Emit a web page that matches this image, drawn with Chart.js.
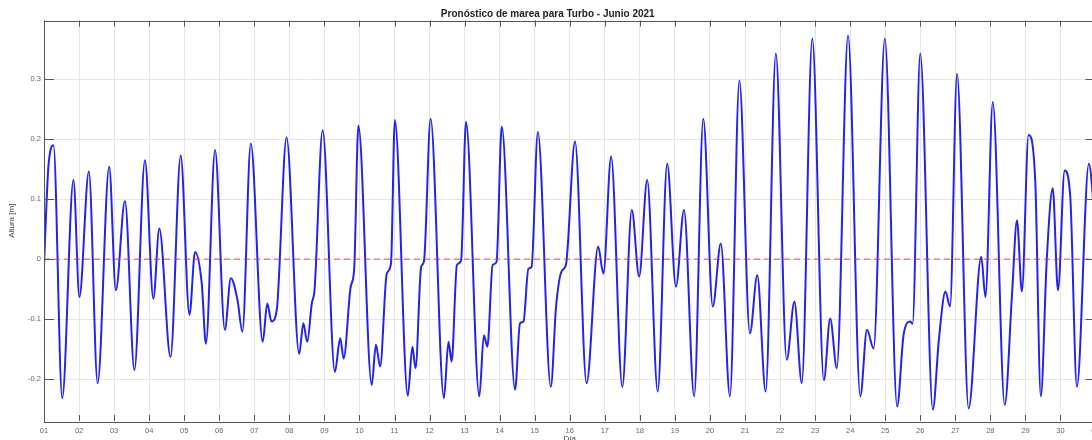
<!DOCTYPE html>
<html>
<head>
<meta charset="utf-8">
<title>Pronóstico de marea - Turbo</title>
<script src="https://cdn.jsdelivr.net/npm/chart.js@4.4.1/dist/chart.umd.min.js"></script>
<style>
  html, body { margin: 0; padding: 0; background: #fff; overflow: hidden; }
  #wrap { width: 1140px; height: 450px; }
</style>
</head>
<body>
<div id="wrap"><canvas id="marea" width="1140" height="450"></canvas></div>
<script>
// instantes (dia de junio con fraccion) y altura de marea [m]
const dias = [
  1.00, 1.12, 1.20, 1.27, 1.52, 1.84, 2.01, 2.28, 2.53, 2.86,
  3.05, 3.31, 3.58, 3.88, 4.12, 4.29, 4.61, 4.90, 5.15, 5.31,
  5.50, 5.62, 5.88, 6.16, 6.33, 6.52, 6.66, 6.90, 7.24, 7.37,
  7.49, 7.64, 7.92, 8.28, 8.40, 8.51, 8.64, 8.72, 8.95, 9.30,
  9.45, 9.55, 9.75, 9.85, 9.97, 10.35, 10.47, 10.59, 10.78, 10.90,
  11.01, 11.38, 11.51, 11.60, 11.76, 11.84, 12.03, 12.41, 12.54, 12.63,
  12.78, 12.90, 13.04, 13.42, 13.55, 13.65, 13.80, 13.91, 14.06, 14.44,
  14.58, 14.68, 14.82, 14.91, 15.09, 15.46, 15.61, 15.77, 15.89, 16.15,
  16.48, 16.81, 16.96, 17.18, 17.50, 17.77, 17.98, 18.21, 18.51, 18.78,
  19.03, 19.26, 19.55, 19.81, 20.08, 20.31, 20.57, 20.84, 21.14, 21.35,
  21.59, 21.88, 22.19, 22.41, 22.62, 22.92, 23.25, 23.43, 23.62, 23.94,
  24.29, 24.48, 24.67, 24.99, 25.34, 25.53, 25.72, 25.78, 26.00, 26.36,
  26.53, 26.72, 26.85, 27.05, 27.38, 27.74, 27.86, 28.07, 28.41, 28.62,
  28.76, 28.90, 29.09, 29.28, 29.44, 29.61, 29.78, 29.93, 30.12, 30.28,
  30.47, 30.81, 31.00
];
const alturas = [
  -0.010, 0.150, 0.185, 0.190, -0.232, 0.132, -0.063, 0.146, -0.207, 0.154,
  -0.052, 0.097, -0.185, 0.165, -0.066, 0.051, -0.163, 0.173, -0.093, 0.012,
  -0.040, -0.141, 0.182, -0.118, -0.032, -0.068, -0.121, 0.193, -0.138, -0.074,
  -0.104, -0.085, 0.203, -0.158, -0.107, -0.138, -0.074, -0.050, 0.215, -0.188,
  -0.132, -0.166, -0.046, -0.016, 0.223, -0.210, -0.143, -0.179, -0.024, -0.007,
  0.232, -0.228, -0.146, -0.182, -0.013, -0.004, 0.234, -0.232, -0.138, -0.171,
  -0.010, -0.002, 0.229, -0.229, -0.127, -0.146, -0.010, -0.005, 0.221, -0.218,
  -0.107, -0.104, -0.016, -0.013, 0.212, -0.213, -0.079, -0.020, -0.010, 0.196,
  -0.207, 0.021, -0.024, 0.171, -0.213, 0.082, -0.029, 0.132, -0.221, 0.159,
  -0.046, 0.082, -0.229, 0.234, -0.079, 0.026, -0.229, 0.298, -0.124, -0.027,
  -0.221, 0.343, -0.168, -0.071, -0.207, 0.368, -0.202, -0.099, -0.182, 0.373,
  -0.229, -0.118, -0.149, 0.368, -0.246, -0.124, -0.104, -0.108, 0.343, -0.251,
  -0.135, -0.054, -0.079, 0.309, -0.249, 0.004, -0.063, 0.262, -0.243, -0.057,
  0.065, -0.054, 0.207, 0.132, -0.229, 0.000, 0.118, -0.052, 0.148, 0.104,
  -0.213, 0.159, 0.050
];
// etiquetas del eje de tiempo (del 1 de junio al 1 de julio)
const etiquetasDia = [
  '01', '02', '03', '04', '05', '06', '07', '08', '09', '10',
  '11', '12', '13', '14', '15', '16', '17', '18', '19', '20',
  '21', '22', '23', '24', '25', '26', '27', '28', '29', '30', '01'
];
const nivelCero = [0, 0];
const rangoDias = [1, 31];

const fuente = 'Liberation Sans, Arial, Helvetica, sans-serif';

// marco de ejes con marcas hacia adentro
const marco = {
  id: 'marco',
  afterDatasetsDraw(chart) {
    const {ctx, chartArea: a, scales: {x, y}} = chart;
    ctx.save();
    ctx.strokeStyle = '#555';
    ctx.lineWidth = 1;
    ctx.beginPath();
    x.ticks.forEach(t => {
      const px = Math.round(x.getPixelForValue(t.value)) + 0.5;
      ctx.moveTo(px, a.bottom); ctx.lineTo(px, a.bottom - 6);
      ctx.moveTo(px, a.top); ctx.lineTo(px, a.top + 6);
    });
    y.ticks.forEach(t => {
      const py = Math.round(y.getPixelForValue(t.value)) + 0.5;
      ctx.moveTo(a.left, py); ctx.lineTo(a.left + 10, py);
      ctx.moveTo(a.right, py); ctx.lineTo(a.right - 10, py);
    });
    ctx.stroke();
    ctx.strokeRect(Math.round(a.left) + 0.5, Math.round(a.top) + 0.5,
      Math.round(a.right - a.left), Math.round(a.bottom - a.top));
    ctx.restore();
  }
};

const config = {
  type: 'line',
  data: {
    datasets: [
      {
        label: 'Marea',
        data: dias.map((d, i) => ({x: d, y: alturas[i]})),
        borderColor: 'rgb(35, 35, 235)',
        borderWidth: 2,
        pointRadius: 0,
        cubicInterpolationMode: 'monotone',
        order: 1
      },
      {
        label: 'Cero',
        data: rangoDias.map((d, i) => ({x: d, y: nivelCero[i]})),
        borderColor: 'rgba(225, 50, 50, 0.85)',
        borderWidth: 1,
        borderDash: [6, 4],
        pointRadius: 0,
        order: 0
      }
    ]
  },
  options: {
    responsive: false,
    animation: false,
    devicePixelRatio: 1,
    layout: { padding: { left: 0, right: 44.5, top: 0, bottom: 0 } },
    plugins: {
      legend: { display: false },
      tooltip: { enabled: false },
      title: {
        display: true,
        text: 'Pronóstico de marea para Turbo - Junio 2021',
        color: '#222',
        font: { family: fuente, size: 10, weight: 'bold' },
        padding: { top: 8, bottom: 0.5 }
      }
    },
    scales: {
      x: {
        type: 'linear',
        min: rangoDias[0],
        max: rangoDias[1],
        afterFit: s => { s.height = 29; },
        border: { display: false },
        grid: { color: '#e6e6e6', drawTicks: false },
        ticks: {
          stepSize: 1,
          autoSkip: false,
          maxRotation: 0,
          padding: 5,
          color: '#666',
          font: { family: fuente, size: 7.5 },
          callback: v => etiquetasDia[v - 1]
        },
        title: {
          display: true,
          text: 'Día',
          color: '#444',
          font: { family: fuente, size: 8 },
          padding: { top: 0, bottom: 6 }
        }
      },
      y: {
        min: -0.27,
        max: 0.398,
        afterFit: s => { s.width = 44; },
        border: { display: false },
        grid: { color: '#e6e6e6', drawTicks: false },
        ticks: {
          stepSize: 0.1,
          includeBounds: false,
          padding: 3,
          color: '#666',
          font: { family: fuente, size: 7.5 },
          callback: v => String(Math.round(v * 10) / 10)
        },
        title: {
          display: true,
          text: 'Altura [m]',
          color: '#444',
          font: { family: fuente, size: 8 },
          padding: { top: 7, bottom: 0 }
        }
      }
    }
  },
  plugins: [marco]
};

const grafico = new Chart(document.getElementById('marea'), config);
</script>
</body>
</html>
